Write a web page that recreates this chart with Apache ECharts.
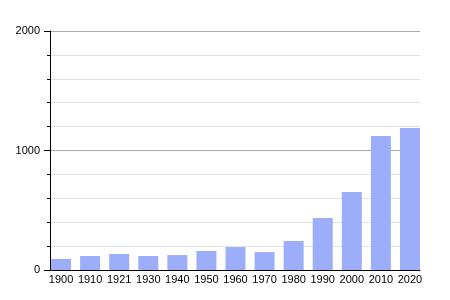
<!DOCTYPE html>
<html><head><meta charset="utf-8">
<script src="https://cdn.jsdelivr.net/npm/echarts@6/dist/echarts.min.js"></script>
<style>html,body{margin:0;padding:0;background:#fff}#c{width:450px;height:300px}</style>
</head><body><div id="c"></div>
<script>
const years = ['1900','1910','1921','1930','1940','1950','1960','1970','1980','1990','2000','2010','2020'];
const population = [92, 117, 134, 117, 125, 159, 192, 150, 243, 435, 653, 1121, 1188];
const yTicks = [0, 1000, 2000];

const font = 'Liberation Sans, Arial, sans-serif';
const chart = echarts.init(document.getElementById('c'), null, {renderer:'canvas'});
chart.setOption({
  animation:false,
  grid:[
    {left:50, right:30, top:31, bottom:30},
    {left:46.5, right:25.5, top:31, bottom:30}
  ],
  xAxis:[
    {type:'category', gridIndex:0, data:years,
      axisLine:{lineStyle:{color:'#000', width:1}},
      axisTick:{show:false}, axisLabel:{show:false}},
    {type:'category', gridIndex:1, data:years,
      axisLine:{show:false}, axisTick:{show:false},
      axisLabel:{color:'#000', fontSize:11, fontFamily:font, margin:4, interval:0}}
  ],
  yAxis:[
    {type:'value', gridIndex:0, min:yTicks[0], max:yTicks[yTicks.length-1], interval:1000,
      axisLine:{show:true, lineStyle:{color:'#000', width:1}},
      axisTick:{show:true, length:6, lineStyle:{color:'#000'}},
      minorTick:{show:true, splitNumber:5, length:3, lineStyle:{color:'#000'}},
      splitLine:{show:true, lineStyle:{color:'#aaa', width:1}},
      minorSplitLine:{show:true, lineStyle:{color:'#e2e2e2', width:1}},
      axisLabel:{color:'#000', fontSize:11, fontFamily:font, margin:10, formatter:v => String(v)}},
    {type:'value', gridIndex:1, min:yTicks[0], max:yTicks[yTicks.length-1], show:false,
      splitLine:{show:false}}
  ],
  series:[{type:'bar', xAxisIndex:1, yAxisIndex:1, data:population, barWidth:20, itemStyle:{color:'#9caefa'}}]
});
</script></body></html>
